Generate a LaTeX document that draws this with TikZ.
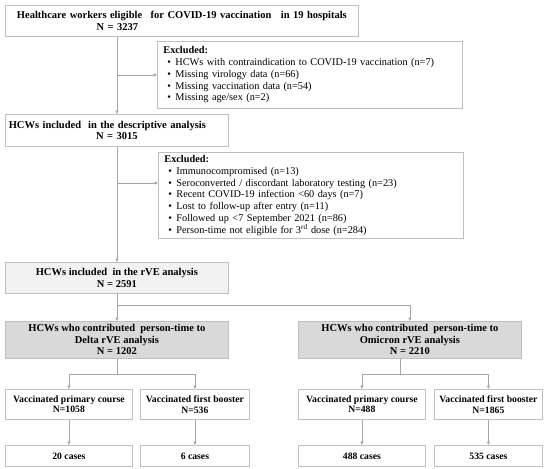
\documentclass[tikz,border=0pt]{standalone}
\usepackage{fontspec}
\setmainfont{Liberation Serif}
\usetikzlibrary{arrows.meta}
\definecolor{bd}{HTML}{BFBFBF}
\definecolor{ln}{HTML}{A6A6A6}
\definecolor{lg}{HTML}{F2F2F2}
\definecolor{mg}{HTML}{D9D9D9}
\newcommand\xbul{\hspace*{4pt}\makebox[8pt][l]{\textbullet}}
\begin{document}
\begin{tikzpicture}[x=1pt,y=-1pt,
  box/.style={draw=bd, line width=0.8pt, inner sep=0pt, anchor=north west, align=center,
    font=\bfseries\fontsize{10.5}{11.5}\selectfont},
  small/.style={font=\bfseries\fontsize{9.7}{10.5}\selectfont},
  excl/.style={draw=bd, line width=0.8pt, inner sep=0pt, anchor=north west, align=left,
    minimum width=305pt, text width=293pt, font=\fontsize{10.3}{11.75}\selectfont},
  conn/.style={draw=ln, line width=0.8pt},
  arr/.style={conn, -{Triangle[length=3.5pt,width=3pt]}}]
\useasboundingbox (0,0) rectangle (550,469);

\node[box, minimum width=353pt, minimum height=31pt, text width=345pt] (b1) at (5,5)
  {Healthcare workers eligible\hspace{5pt} for COVID-19 vaccination\hspace{6pt} in 19 hospitals\\\hspace*{-129pt}N = 3237};
\node[excl, minimum height=67pt] (e1) at (157,41)
  {\textbf{Excluded:}\\
   \xbul HCWs with contraindication to COVID-19 vaccination (n=7)\\
   \xbul Missing virology data (n=66)\\
   \xbul Missing vaccination data (n=54)\\
   \xbul Missing age/sex (n=2)};
\node[box, minimum width=223pt, minimum height=32pt, text width=215pt] (b2) at (5,114)
  {\hspace*{-19pt}HCWs included\ \ in the descriptive analysis\\N = 3015};
\node[excl, minimum height=86pt] (e2) at (158,152)
  {\textbf{Excluded:}\\
   \xbul Immunocompromised (n=13)\\
   \xbul Seroconverted / discordant laboratory testing (n=23)\\
   \xbul Recent COVID-19 infection <60 days (n=7)\\
   \xbul Lost to follow-up after entry (n=11)\\
   \xbul Followed up <7 September 2021 (n=86)\\
   \xbul Person-time not eligible for 3\textsuperscript{rd} dose (n=284)};
\node[box, fill=lg, minimum width=223pt, minimum height=31pt] (b3) at (5,262)
  {HCWs included\ \ in the rVE analysis\\N = 2591};
\node[box, fill=mg, minimum width=223pt, minimum height=37pt] (delta) at (5,321)
  {HCWs who contributed\ \ person-time to\\Delta rVE analysis\\N = 1202};
\node[box, fill=mg, minimum width=223pt, minimum height=37pt] (omi) at (298,321)
  {HCWs who contributed\ \ person-time to\\Omicron rVE analysis\\N = 2210};

\node[box, small, minimum width=127pt, minimum height=30pt] (dp) at (5,389) {Vaccinated primary course\\N=1058};
\node[box, small, minimum width=109pt, minimum height=30pt] (db) at (140,389) {Vaccinated first booster\\N=536};
\node[box, small, minimum width=127pt, minimum height=30pt] (op) at (298,389) {Vaccinated primary course\\N=488};
\node[box, small, minimum width=108pt, minimum height=30pt] (ob) at (434,389) {Vaccinated first booster\\N=1865};

\node[box, small, minimum width=127pt, minimum height=21pt] (dpc) at (5,445) {20 cases};
\node[box, small, minimum width=109pt, minimum height=21pt] (dbc) at (140,445) {6 cases};
\node[box, small, minimum width=127pt, minimum height=21pt] (opc) at (298,445) {488 cases};
\node[box, small, minimum width=108pt, minimum height=21pt] (obc) at (434,445) {535 cases};

\coordinate (vx) at (117,0);
\coordinate (j2) at (117,183);
\coordinate (s1) at (117,305);
\coordinate (s2) at (117,374);
\coordinate (s3) at (400,374);

\draw[arr] (b1.south -| vx) -- (b2.north -| vx);
\draw[arr] (vx |- e1.west) -- (e1.west);
\draw[arr] (b2.south -| vx) -- (b3.north -| vx);
\draw[arr] (j2) -- (j2 -| e2.west);
\draw[arr] (b3.south -| vx) -- (delta.north -| vx);
\draw[arr] (s1) -| (omi.north);

\draw[conn] (delta.south -| vx) -- (s2);
\draw[arr] (s2) -| (dp.north);
\draw[arr] (s2) -| (db.north);
\draw[conn] (omi.south -| s3) -- (s3);
\draw[arr] (s3) -| (op.north);
\draw[arr] (s3) -| (ob.north);

\draw[arr] (dp.south) -- (dpc.north);
\draw[arr] (db.south) -- (dbc.north);
\draw[arr] (op.south) -- (opc.north);
\draw[arr] (ob.south) -- (obc.north);
\end{tikzpicture}
\end{document}
